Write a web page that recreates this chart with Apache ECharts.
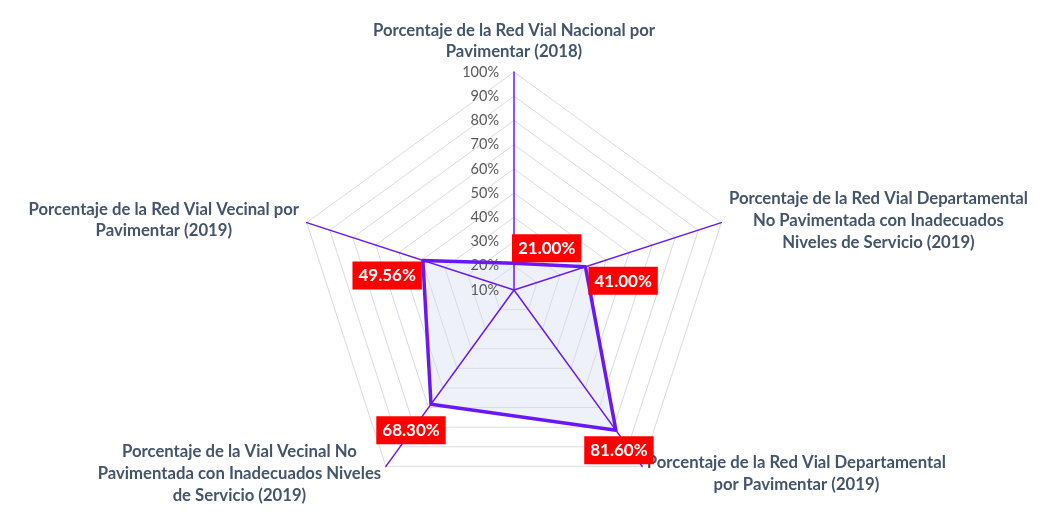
<!DOCTYPE html>
<html>
<head>
<meta charset="utf-8">
<title>Red Vial por Pavimentar</title>
<script src="https://cdn.jsdelivr.net/npm/echarts@6/dist/echarts.min.js"></script>
<style>
    html, body { margin: 0; padding: 0; background: #fff; }
    #radarChart { width: 1062px; height: 526px; }
</style>
</head>
<body>
<div id="radarChart"></div>
<script>
    // indicadores en orden antihorario (ECharts), empezando arriba
    var indicatorNames = [
        'Porcentaje de la Red Vial Nacional por\nPavimentar (2018)',
        'Porcentaje de la Red Vial Vecinal por\nPavimentar (2019)',
        'Porcentaje de la Vial Vecinal No\nPavimentada con Inadecuados Niveles\nde Servicio (2019)',
        'Porcentaje de la Red Vial Departamental\npor Pavimentar (2019)',
        'Porcentaje de la Red Vial Departamental\nNo Pavimentada con Inadecuados\nNiveles de Servicio (2019)'
    ];
    var values = [21.00, 49.56, 68.30, 81.60, 41.00];
    var tickValues = [10, 20, 30, 40, 50, 60, 70, 80, 90, 100];

    var purple = '#6A17F8';
    var textColor = '#44546A';
    var center = [514, 290];
    var radius = 218;
    var minV = tickValues[0], maxV = tickValues[tickValues.length - 1];

    // posiciones de las etiquetas rojas (una por punto)
    var labelPos = [
        { position: [-2, -1], align: 'left', verticalAlign: 'bottom' },
        { position: [-1, 1], align: 'right', verticalAlign: 'top' },
        { position: [-20, 12], align: 'center', verticalAlign: 'top' },
        { position: [3, 6], align: 'center', verticalAlign: 'top' },
        { position: [3, 0], align: 'left', verticalAlign: 'top' }
    ];

    var nameStyle = { align: 'center', fontFamily: 'Lato', fontWeight: 'bold', fontSize: 16.7, lineHeight: 21, color: textColor };
    var nameRich = {
        n0: Object.assign({}, nameStyle, { padding: [0, 0, 4, 0] }),
        n1: Object.assign({}, nameStyle),
        n2: Object.assign({}, nameStyle, { lineHeight: 22, padding: [2, 0, 0, 0] }),
        n3: Object.assign({}, nameStyle, { lineHeight: 22, padding: [2, 0, 0, 0] }),
        n4: Object.assign({}, nameStyle, { lineHeight: 22 })
    };

    var chart = echarts.init(document.getElementById('radarChart'));
    var option = {
        animation: false,
        backgroundColor: '#fff',
        radar: {
            center: center,
            radius: radius,
            startAngle: 90,
            z: 3,
            splitNumber: tickValues.length - 1,
            shape: 'polygon',
            indicator: indicatorNames.map(function (n) {
                return { name: n, min: minV, max: maxV };
            }),
            axisName: {
                formatter: function (name) {
                    var k = indicatorNames.indexOf(name);
                    return name.split('\n').map(function (l) {
                        return '{n' + k + '|' + l + '}';
                    }).join('\n');
                },
                rich: nameRich
            },
            nameGap: 8,
            axisLine: { lineStyle: { color: purple, width: 1.5 } },
            splitLine: { lineStyle: { color: '#D9DCE6', width: 1 } },
            splitArea: { show: false },
            axisTick: { show: false },
            axisLabel: { show: false }
        },
        polar: {
            center: center,
            radius: radius
        },
        angleAxis: {
            type: 'value',
            min: 0,
            max: 360,
            startAngle: 90,
            clockwise: false,
            show: false
        },
        radiusAxis: {
            type: 'value',
            min: minV,
            max: maxV,
            interval: 10,
            axisLine: { show: false },
            axisTick: { show: false },
            splitLine: { show: false },
            axisLabel: {
                formatter: '{value}%',
                color: '#595959',
                fontFamily: 'Lato',
                fontSize: 14.5,
                margin: 15
            },
            z: 5
        },
        series: [
            {
                // relleno
                type: 'radar',
                symbol: 'none',
                z: 1,
                lineStyle: { width: 0 },
                areaStyle: { color: '#EEF1FA', opacity: 1 },
                data: [{ value: values }]
            },
            {
                // contorno
                type: 'radar',
                symbol: 'none',
                z: 6,
                lineStyle: { color: purple, width: 3.5 },
                data: [{ value: values }]
            },
            {
                type: 'scatter',
                coordinateSystem: 'polar',
                symbolSize: 0,
                z: 10,
                itemStyle: { opacity: 1 },
                data: values.map(function (v, i) {
                    return {
                        value: [v, i * 360 / values.length],
                        label: labelPos[i]
                    };
                }),
                label: {
                    show: true,
                    formatter: function (p) { return p.value[0].toFixed(2) + '%'; },
                    backgroundColor: '#FF0000',
                    color: '#fff',
                    fontFamily: 'Lato',
                    fontWeight: 'bold',
                    fontSize: 17,
                    padding: [6, 6, 5, 6]
                }
            }
        ]
    };
    chart.setOption(option);
</script>
</body>
</html>
